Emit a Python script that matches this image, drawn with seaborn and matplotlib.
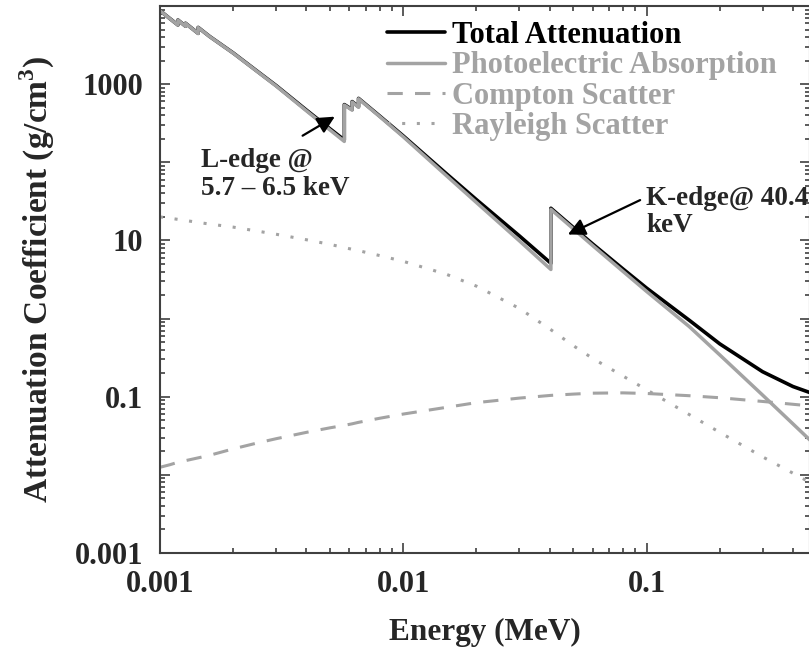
import numpy as np
import pandas as pd
import matplotlib
matplotlib.use("Agg")
import matplotlib.pyplot as plt
from matplotlib.ticker import LogLocator, FixedLocator, FixedFormatter, NullFormatter
from matplotlib.lines import Line2D
import seaborn as sns

# ---------------- data ----------------
energy_mev = [0.00100, 0.00110, 0.001185, 0.001185, 0.001273, 0.001273, 0.001435, 0.001435,
              0.00160, 0.00200, 0.00250, 0.00300, 0.00400, 0.00500, 0.005723, 0.005723,
              0.006164, 0.006164, 0.006549, 0.006549, 0.00800, 0.01000, 0.01500, 0.02000,
              0.03000, 0.04045, 0.04045, 0.05000, 0.06000, 0.08000, 0.10000, 0.15000,
              0.20000, 0.30000, 0.40000, 0.50000]
photoelectric = [8700, 6850, 5700, 6600, 5500, 6000, 4450, 5300,
                 4060, 2490, 1463, 948, 455, 259, 185, 540,
                 465, 590, 507, 650, 385, 212, 68, 30.5,
                 9.9, 4.25, 25.0, 14.1, 8.62, 4.02, 2.23, 0.788,
                 0.343, 0.105, 0.0449, 0.0232]
total = [8720, 6869, 5719, 6619, 5518, 6018, 4467, 5317,
         4076, 2505, 1476, 960, 465, 268, 193, 548,
         473, 598, 514, 657, 391, 217.5, 72, 33.2,
         11.45, 5.1, 25.8, 14.66, 9.04, 4.32, 2.46, 0.95,
         0.475, 0.209, 0.135, 0.1054]
compton = [0.0125, 0.0135, 0.0145, 0.0145, 0.0152, 0.0152, 0.0165, 0.0165,
           0.0178, 0.0215, 0.0255, 0.029, 0.035, 0.040, 0.043, 0.043,
           0.045, 0.045, 0.047, 0.047, 0.053, 0.060, 0.073, 0.084,
           0.096, 0.104, 0.104, 0.108, 0.111, 0.112, 0.110, 0.103,
           0.097, 0.087, 0.080, 0.075]
rayleigh = [20.0, 19.2, 18.6, 18.6, 18.0, 18.0, 17.0, 17.0,
            16.2, 14.8, 13.2, 12.0, 10.2, 8.9, 8.1, 8.1,
            7.7, 7.7, 7.4, 7.4, 6.4, 5.4, 3.7, 2.6,
            1.35, 0.72, 0.72, 0.45, 0.31, 0.184, 0.123, 0.059,
            0.035, 0.017, 0.0105, 0.0072]

series_names = ["Total Attenuation", "Photoelectric Absorption", "Compton Scatter", "Rayleigh Scatter"]
x_ticks = [0.001, 0.01, 0.1]
x_ticklabels = ["0.001", "0.01", "0.1"]
y_ticks = [1e-3, 1e-2, 1e-1, 1e0, 1e1, 1e2, 1e3, 1e4]
y_ticklabels = ["0.001", "", "0.1", "", "10", "", "1000", ""]

# ---------------- style ----------------
sns.set_style("ticks")
plt.rcParams["font.family"] = ["Liberation Serif", "DejaVu Serif"]
plt.rcParams["font.weight"] = "bold"
plt.rcParams["mathtext.fontset"] = "custom"
plt.rcParams["mathtext.bf"] = "Liberation Serif:bold"
plt.rcParams["mathtext.rm"] = "Liberation Serif:bold"

GRAY = "#a3a3a3"
SPINE = "#404040"
DASH = (0, (5, 4))
DOT = (0, (1, 3.8))

fig = plt.figure(figsize=(8.09, 6.51), dpi=100)
ax = fig.add_axes([160 / 809, 98 / 651, 650 / 809, 547 / 651])

df = pd.DataFrame({"energy": energy_mev, "total": total, "photo": photoelectric,
                   "compton": compton, "rayleigh": rayleigh})

sns.lineplot(data=df, x="energy", y="rayleigh", ax=ax, estimator=None, sort=False,
             color=GRAY, lw=2.2, linestyle=DOT)
sns.lineplot(data=df, x="energy", y="compton", ax=ax, estimator=None, sort=False,
             color=GRAY, lw=2.2, linestyle=DASH)
sns.lineplot(data=df, x="energy", y="total", ax=ax, estimator=None, sort=False,
             color="black", lw=2.6)
sns.lineplot(data=df, x="energy", y="photo", ax=ax, estimator=None, sort=False,
             color=GRAY, lw=2.5)

ax.set_xscale("log")
ax.set_yscale("log")
ax.set_xlim(0.001, 0.47)
ax.set_ylim(1e-3, 1e4)

ax.xaxis.set_major_locator(FixedLocator(x_ticks))
ax.xaxis.set_major_formatter(FixedFormatter(x_ticklabels))
ax.xaxis.set_minor_locator(LogLocator(base=10, subs=np.arange(2, 10), numticks=20))
ax.xaxis.set_minor_formatter(NullFormatter())
ax.yaxis.set_major_locator(FixedLocator(y_ticks))
ax.yaxis.set_major_formatter(FixedFormatter(y_ticklabels))
ax.yaxis.set_minor_locator(LogLocator(base=10, subs=np.arange(2, 10), numticks=20))
ax.yaxis.set_minor_formatter(NullFormatter())

ax.tick_params(which="both", direction="in", top=True, right=True, color=SPINE, width=1.2)
ax.tick_params(which="major", length=7, pad=12, labelsize=22)
ax.tick_params(which="minor", length=3.6)
for lab in ax.get_xticklabels() + ax.get_yticklabels():
    lab.set_fontweight("bold")
for sp in ax.spines.values():
    sp.set_color(SPINE)
    sp.set_linewidth(1.5)

ax.set_xlabel("Energy (MeV)", fontsize=22.5, fontweight="bold", labelpad=14)
ax.set_ylabel("Attenuation Coefficient (g/cm$^\\mathbf{3}$)", fontsize=24, fontweight="bold")
ax.yaxis.set_label_coords((57 - 160) / 650, 0.5)

# legend
handles = [Line2D([], [], color="black", lw=2.6),
           Line2D([], [], color=GRAY, lw=2.5),
           Line2D([], [], color=GRAY, lw=2.2, linestyle=DASH),
           Line2D([], [], color=GRAY, lw=2.2, linestyle=DOT)]
leg = ax.legend(handles, series_names, loc="upper left", bbox_to_anchor=(0.349, 0.9726),
                frameon=False, borderpad=0, borderaxespad=0, handlelength=1.9,
                handletextpad=0.23, labelspacing=0.045,
                prop={"family": "Liberation Serif", "weight": "bold", "size": 22},
                labelcolor=["black", GRAY, GRAY, GRAY])

# annotations
ax.annotate("", xy=(0.00535, 400), xytext=(0.00377, 210),
            arrowprops=dict(arrowstyle="-|>", color="black", lw=1.6, mutation_scale=26))
ax.text(0.00148, 152, "L-edge @\n5.7 \u2013 6.5 keV", fontsize=19.5, fontweight="bold",
        va="top", ha="left", linespacing=1.17)
ax.annotate("", xy=(0.0464, 11.5), xytext=(0.0964, 34),
            arrowprops=dict(arrowstyle="-|>", color="black", lw=1.6, mutation_scale=26))
ax.text(0.0999, 50, "K-edge@ 40.4\nkeV", fontsize=19.5, fontweight="bold",
        va="top", ha="left", linespacing=1.1)

fig.savefig("out.png", dpi=100)
